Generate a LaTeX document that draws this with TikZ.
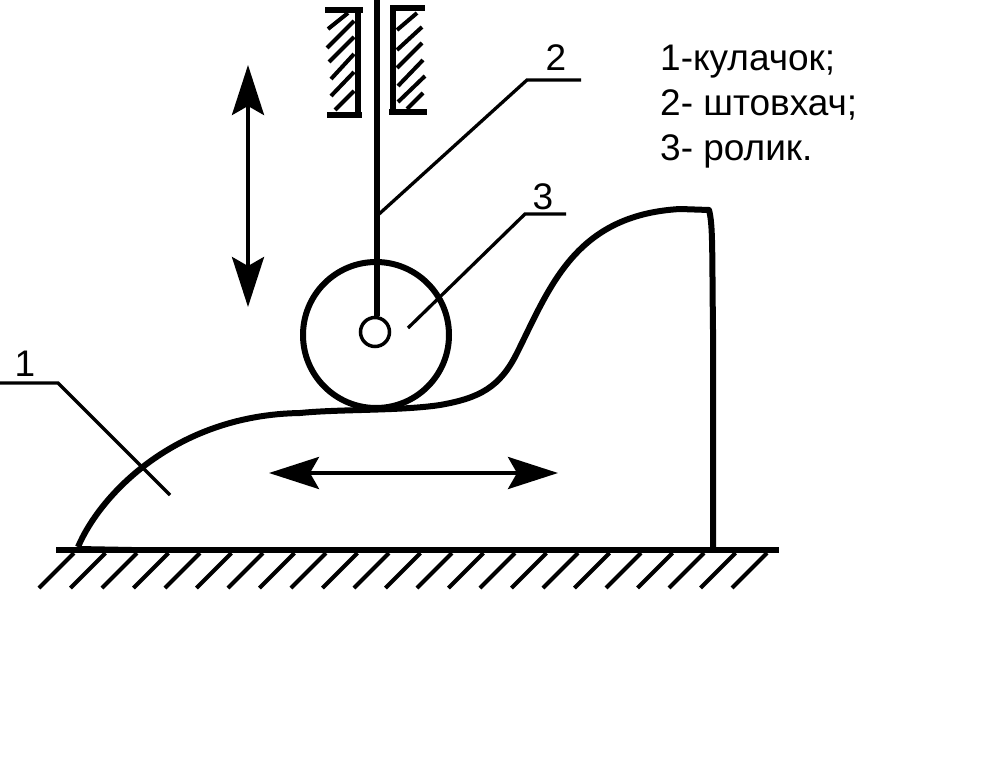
\documentclass[tikz,border=0pt]{standalone}
\usepackage{fontspec}
\setmainfont{Liberation Sans}
\usetikzlibrary{arrows.meta}
\tikzset{
  thick line/.style={line width=6pt},
  thin line/.style={line width=3.5pt},
  leader/.style={line width=3.3pt},
  hatch/.style={line width=4pt},
  motion/.style={line width=4pt,{Stealth[length=50pt,width=32pt,inset=9pt]}-{Stealth[length=50pt,width=32pt,inset=9pt]}},
  label/.style={font=\fontsize{37}{37}\selectfont,inner sep=0pt,anchor=base},
  legend/.style={font=\fontsize{37}{37}\selectfont,inner sep=0pt,anchor=base west}
}
\begin{document}
\begin{tikzpicture}[x=1pt,y=-1pt]
  \useasboundingbox (0,0) rectangle (994,779);
  % ground
  \draw[thick line] (56,550) -- (779,550);
  \foreach \i in {0,...,22}
    \draw[hatch] ({39+31.5*\i},588) -- ({74+31.5*\i},553);
  % cam
  \draw[thick line,line join=round] (78,547) .. controls (100,495) and (175,415) .. (300,413)
    .. controls (340,409) and (400,411) .. (440,405)
    .. controls (480,398) and (500,387) .. (517,353)
    .. controls (550,287) and (575,215) .. (680,209) -- (709,210)
    .. controls (713,225) and (712,250) .. (713,330) -- (713,550);
  \draw[line width=2pt] (78,547) -- (240,550);
  % guide
  \draw[thick line] (325,10) -- (363,10);
  \draw[thick line] (327,115) -- (362,115);
  \draw[thick line] (358,10) -- (358,115);
  \draw[thick line] (390,8) -- (425,8);
  \draw[thick line] (389,112) -- (427,112);
  \draw[thick line] (393,8) -- (393,112);
  \foreach \xa/\ya/\xb/\yb in {328/29/348/13,327/48/354/21,329/62/354/37,331/79/354/54,331/96/354/72,335/110/354/91}
    \draw[hatch] (\xa,\ya) -- (\xb,\yb);
  \foreach \xa/\ya/\xb/\yb in {397/30/417/13,397/50/422/27,397/68/422/43,398/86/423/60,398/102/425/76,407/109/423/93}
    \draw[hatch] (\xa,\ya) -- (\xb,\yb);
  % roller and rod
  \node[circle,draw,line width=6pt,minimum size=146pt,inner sep=0pt] (roller) at (376,335) {};
  \node[circle,draw,line width=3.5pt,minimum size=29pt,inner sep=0pt] (pin) at (375,332) {};
  \coordinate (rodtop) at (377,0);
  \draw[thick line] (rodtop) -- (pin.north -| rodtop);
  % leaders
  \coordinate (a1) at (0,383);
  \coordinate (b1) at (58,383);
  \coordinate (c1) at (170,495);
  \draw[leader] (a1) -- (b1) -- (c1);
  \coordinate (a2) at (581,80);
  \coordinate (b2) at (527,80);
  \coordinate (c2) at (378,215);
  \draw[leader] (a2) -- (b2) -- (c2);
  \coordinate (a3) at (566,214);
  \coordinate (b3) at (525,214);
  \coordinate (c3) at (408,328);
  \draw[leader] (a3) -- (b3) -- (c3);
  \node[label] (n1) at (25,376) {1};
  \node[label] (n2) at (556,70) {2};
  \node[label] (n3) at (543,209) {3};
  % motions
  \coordinate (vt) at (248,65);
  \coordinate (vb) at (248,307);
  \draw[motion] (vt) -- (vb);
  \coordinate (hl) at (269,473);
  \coordinate (hr) at (558,473);
  \draw[motion] (hl) -- (hr);
  % legend
  \node[legend] (cam) at (660,70) {1-кулачок;};
  \node[legend] (rod) at (660,115) {2- штовхач;};
  \node[legend] (rol) at (660,160) {3- ролик.};
\end{tikzpicture}
\end{document}
